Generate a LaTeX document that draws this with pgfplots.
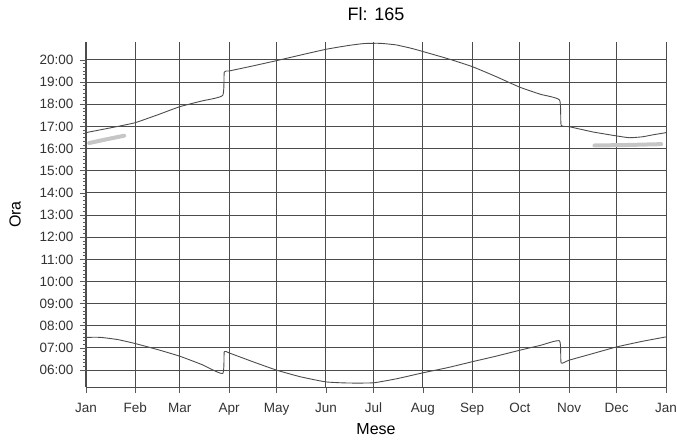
\documentclass[border=0pt]{standalone}
\usepackage{fontspec}
\setmainfont{Liberation Sans}
\usepackage{pgfplots}
\pgfplotsset{compat=1.18}
\usetikzlibrary{calc}

\pgfplotstableread{
day hour
0   16.72
10  16.86
20  17.00
31  17.17
45  17.52
59  17.89
73  18.15
86  18.40
87  19.45
90  19.50
105 19.73
120 19.97
135 20.22
151 20.48
165 20.65
175 20.74
185 20.75
195 20.68
205 20.52
212 20.38
228 20.05
243 19.70
258 19.25
273 18.77
286 18.45
298 18.19
299 17.06
304 16.99
319 16.75
334 16.57
342 16.49
350 16.53
356 16.61
365 16.72
}\sunset

\pgfplotstableread{
day hour
0   7.48
9   7.48
20  7.38
31  7.20
45  6.93
59  6.63
73  6.25
86  5.85
87  6.83
90  6.78
105 6.38
120 6.00
135 5.70
151 5.47
165 5.42
181 5.43
196 5.62
212 5.88
228 6.12
243 6.38
258 6.63
273 6.90
286 7.12
298 7.32
299 6.33
304 6.45
319 6.75
334 7.05
350 7.30
365 7.50
}\sunrise

\pgfplotstableread{
day hour
2   16.25
13  16.42
24  16.58
}\shadejan

\pgfplotstableread{
day hour
320 16.14
340 16.16
362 16.20
}\shadedec

\begin{document}
\begin{tikzpicture}
\begin{axis}[
  scale only axis, width=580pt, height=345pt,
  xmin=0, xmax=365, ymin=5.24, ymax=20.81,
  axis x line=bottom, axis y line=left,
  axis line style={-, black!70, line width=0.9pt},
  xtick={0,31,59,90,120,151,181,212,243,273,304,334,365},
  xticklabels={Jan,Feb,Mar,Apr,May,Jun,Jul,Aug,Sep,Oct,Nov,Dec,Jan},
  ytick={6,7,8,9,10,11,12,13,14,15,16,17,18,19,20},
  yticklabels={06:00,07:00,08:00,09:00,10:00,11:00,12:00,13:00,14:00,15:00,16:00,17:00,18:00,19:00,20:00},
  minor x tick num=3, minor y tick num=5,
  tick align=outside,
  major tick length=6pt, minor tick length=3pt,
  grid=major, major grid style={black!70, line width=1pt},
  tick style={black!65, line width=0.7pt},
  tick label style={font=\fontsize{13.5}{15}\selectfont, text=black!80},
  xticklabel style={yshift=-6pt, text height=10pt, text depth=3pt},
  yticklabel style={xshift=-3pt},
  title={Fl: 165},
  title style={font=\fontsize{18}{20}\selectfont, at={(axis description cs:0.5,1)}, anchor=base, yshift=15pt},
  xlabel={Mese},
  xlabel style={font=\fontsize{16}{18}\selectfont, at={(axis description cs:0.5,0)}, anchor=base, yshift=-48pt},
  ylabel={Ora},
  ylabel style={font=\fontsize{16}{18}\selectfont, at={(axis description cs:0,0.5)}, anchor=center, yshift=71pt},
  clip=false,
]
\addplot[gray!45, line width=4pt, line cap=round] table[x=day,y=hour] {\shadejan};
\addplot[gray!45, line width=4pt, line cap=round] table[x=day,y=hour] {\shadedec};
\addplot[black!70, line width=0.9pt, smooth, tension=0.3] table[x=day,y=hour] {\sunset};
\addplot[black!70, line width=0.9pt, smooth, tension=0.3] table[x=day,y=hour] {\sunrise};
\coordinate (bl) at (rel axis cs:0,0);
\coordinate (tr) at (rel axis cs:1,1);
\end{axis}
\pgfresetboundingbox
\path[use as bounding box] ($(bl)+(-86pt,-54pt)$) rectangle ($(tr)+(11pt,42pt)$);
\end{tikzpicture}
\end{document}
